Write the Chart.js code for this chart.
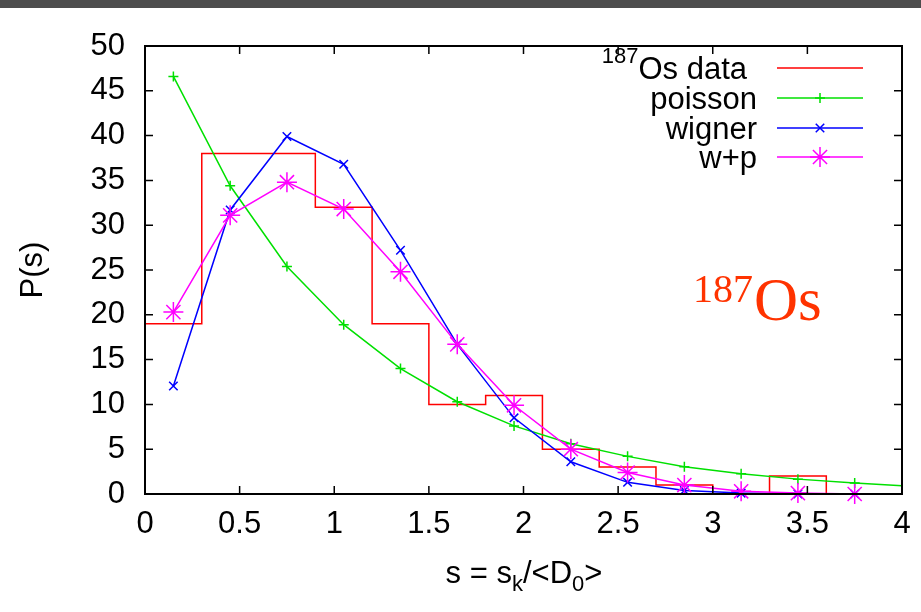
<!DOCTYPE html>
<html>
<head>
<meta charset="utf-8">
<script src="https://cdn.jsdelivr.net/npm/chart.js@4/dist/chart.umd.min.js"></script>
<style>
  html, body { margin: 0; padding: 0; background: #ffffff; }
  #wrap { width: 921px; height: 612px; position: relative; }
</style>
</head>
<body>
<div id="wrap"><canvas id="c" width="921" height="612"></canvas></div>
<script>
// ---- data ----
const binEdges = [0, 0.3, 0.6, 0.9, 1.2, 1.5, 1.8, 2.1, 2.4, 2.7, 3.0, 3.3, 3.6, 3.9];
const osCounts = [19, 38, 38, 32, 19, 10, 11, 5, 3, 1, 0, 2, 0];

const sPoints = [0.15, 0.45, 0.75, 1.05, 1.35, 1.65, 1.95, 2.25, 2.55, 2.85, 3.15, 3.45, 3.75, 4.0];
const poissonVals = [46.6, 34.4, 25.4, 18.9, 14.0, 10.3, 7.6, 5.6, 4.2, 3.05, 2.27, 1.66, 1.22, 0.93];
const wignerVals  = [12.05, 31.7, 39.9, 36.8, 27.2, 16.7, 8.5, 3.6, 1.3, 0.4, 0.1, 0.0, 0.0, 0.0];
const wpVals      = [20.3, 31.1, 34.8, 31.8, 24.8, 16.7, 9.9, 5.0, 2.4, 1.0, 0.3, 0.1, 0.0, 0.0];
const markedCount = 13; // points with markers (bin centres); last point is the curve end

const xTicks = [0, 0.5, 1, 1.5, 2, 2.5, 3, 3.5, 4];
const xTickLabels = ['0', '0.5', '1', '1.5', '2', '2.5', '3', '3.5', '4'];
const yTicks = [0, 5, 10, 15, 20, 25, 30, 35, 40, 45, 50];
const yTickLabels = ['0', '5', '10', '15', '20', '25', '30', '35', '40', '45', '50'];

const legendLabels = ['Os data', 'poisson', 'wigner', 'w+p'];

// ---- build library data ----
const histData = binEdges.map((e, i) => ({ x: e, y: osCounts[Math.min(i, osCounts.length - 1)] }));
const mk = vals => sPoints.map((s, i) => ({ x: s, y: vals[i] }));

const FONT = "'Liberation Sans', Arial, Helvetica, sans-serif";
const SERIF = "'Liberation Serif', 'Times New Roman', serif";
const FS = 31;

const radiusFn = r => ctx => (ctx.dataIndex < markedCount ? r : 0);

const colors = { red: '#ff0000', green: '#00e000', blue: '#0000ff', magenta: '#ff00ff' };

const decorPlugin = {
  id: 'decor',
  beforeDraw(chart) {
    const ctx = chart.ctx;
    ctx.save();
    ctx.fillStyle = '#ffffff';
    ctx.fillRect(0, 0, chart.width, chart.height);
    ctx.fillStyle = '#4d4d4d';
    ctx.fillRect(0, 0, chart.width, 8);
    ctx.restore();
  },
  afterDraw(chart) {
    const ctx = chart.ctx;
    const a = chart.chartArea;
    const xs = chart.scales.x, ys = chart.scales.y;
    ctx.save();
    // frame
    ctx.strokeStyle = '#000000';
    ctx.lineWidth = 2;
    ctx.strokeRect(a.left, a.top, a.right - a.left, a.bottom - a.top);
    // inward ticks, all four sides
    ctx.lineWidth = 1.5;
    const tl = 8;
    ctx.beginPath();
    xTicks.forEach(v => {
      const px = xs.getPixelForValue(v);
      ctx.moveTo(px, a.bottom); ctx.lineTo(px, a.bottom - tl);
      ctx.moveTo(px, a.top); ctx.lineTo(px, a.top + tl);
    });
    yTicks.forEach(v => {
      const py = ys.getPixelForValue(v);
      ctx.moveTo(a.left, py); ctx.lineTo(a.left + tl, py);
      ctx.moveTo(a.right, py); ctx.lineTo(a.right - tl, py);
    });
    ctx.stroke();

    // legend
    const rows = [68, 98, 128, 157];
    const styles = [
      { c: colors.red, ps: false, r: 0 },
      { c: colors.green, ps: 'cross', r: 5 },
      { c: colors.blue, ps: 'crossRot', r: 6 },
      { c: colors.magenta, ps: 'star', r: 10 }
    ];
    ctx.fillStyle = '#000000';
    ctx.textBaseline = 'middle';
    ctx.textAlign = 'right';
    legendLabels.forEach((lab, i) => {
      const y = rows[i];
      const tx = i === 0 ? 747 : 757;
      ctx.font = FS + 'px ' + FONT;
      ctx.fillText(lab, tx, y + 2);
      if (i === 0) {
        const w = ctx.measureText(lab).width;
        ctx.font = '22px ' + FONT;
        ctx.fillText('187', tx - w, y - 11);
      }
      const st = styles[i];
      ctx.strokeStyle = st.c;
      ctx.lineWidth = 1.5;
      ctx.beginPath();
      ctx.moveTo(777, y); ctx.lineTo(863, y);
      ctx.stroke();
      if (st.ps) {
        Chart.helpers.drawPoint(ctx, { pointStyle: st.ps, radius: st.r, borderWidth: 1.5, rotation: 0 }, 820, y);
      }
    });

    // big 187Os label
    ctx.fillStyle = '#ff3300';
    ctx.textAlign = 'left';
    ctx.textBaseline = 'alphabetic';
    ctx.font = '40px ' + SERIF;
    ctx.fillText('187', 693, 302);
    ctx.font = '61px ' + SERIF;
    ctx.fillText('Os', 754, 320);

    // x-axis title with subscripts
    const parts = [
      { t: 's = s', sub: false },
      { t: 'k', sub: true },
      { t: '/<D', sub: false },
      { t: '0', sub: true },
      { t: '>', sub: false }
    ];
    let total = 0;
    parts.forEach(p => {
      ctx.font = (p.sub ? 22 : FS) + 'px ' + FONT;
      p.w = ctx.measureText(p.t).width;
      total += p.w;
    });
    let x0 = 524 - total / 2;
    const base = 583;
    ctx.fillStyle = '#000000';
    parts.forEach(p => {
      ctx.font = (p.sub ? 22 : FS) + 'px ' + FONT;
      ctx.fillText(p.t, x0, base + (p.sub ? 8 : 0));
      x0 += p.w;
    });
    ctx.restore();
  }
};

new Chart(document.getElementById('c'), {
  type: 'line',
  data: {
    datasets: [
      {
        label: legendLabels[0],
        data: histData,
        borderColor: colors.red,
        borderWidth: 1.5,
        stepped: 'before',
        pointRadius: 0,
        fill: false,
        order: 4
      },
      {
        label: legendLabels[1],
        data: mk(poissonVals),
        borderColor: colors.green,
        borderWidth: 1.5,
        pointStyle: 'cross',
        pointRadius: radiusFn(5),
        pointBorderWidth: 1.5,
        pointBorderColor: colors.green,
        tension: 0,
        fill: false,
        order: 3
      },
      {
        label: legendLabels[2],
        data: mk(wignerVals),
        borderColor: colors.blue,
        borderWidth: 1.5,
        pointStyle: 'crossRot',
        pointRadius: radiusFn(6),
        pointBorderWidth: 1.5,
        pointBorderColor: colors.blue,
        tension: 0,
        fill: false,
        order: 2
      },
      {
        label: legendLabels[3],
        data: mk(wpVals),
        borderColor: colors.magenta,
        borderWidth: 1.5,
        pointStyle: 'star',
        pointRadius: radiusFn(10),
        pointBorderWidth: 1.5,
        pointBorderColor: colors.magenta,
        tension: 0,
        fill: false,
        order: 1
      }
    ]
  },
  options: {
    responsive: false,
    animation: false,
    devicePixelRatio: 1,
    clip: false,
    layout: { padding: { left: 0, top: 46, right: 19, bottom: 0 } },
    plugins: {
      legend: { display: false },
      tooltip: { enabled: false }
    },
    scales: {
      x: {
        type: 'linear',
        min: 0, max: 4,
        afterBuildTicks: s => { s.ticks = xTicks.map(v => ({ value: v })); },
        afterFit: s => { s.height = 118; s.paddingRight = 0; s.paddingLeft = 0; },
        grid: { display: false, drawTicks: false },
        border: { display: false },
        ticks: {
          color: '#000', font: { family: FONT, size: FS }, padding: 12, maxRotation: 0, autoSkip: false,
          callback: (v, i) => xTickLabels[i]
        },
        title: { display: false }
      },
      y: {
        type: 'linear',
        min: 0, max: 50,
        afterBuildTicks: s => { s.ticks = yTicks.map(v => ({ value: v })); },
        afterFit: s => { s.width = 145; s.paddingTop = 0; s.paddingBottom = 0; },
        grid: { display: false, drawTicks: false },
        border: { display: false },
        ticks: {
          color: '#000', font: { family: FONT, size: FS }, padding: 20, autoSkip: false,
          callback: (v, i) => yTickLabels[i]
        },
        title: { display: true, text: 'P(s)', color: '#000', font: { family: FONT, size: FS }, padding: { top: 15, bottom: 0 } }
      }
    }
  },
  plugins: [decorPlugin]
});
</script>
</body>
</html>
